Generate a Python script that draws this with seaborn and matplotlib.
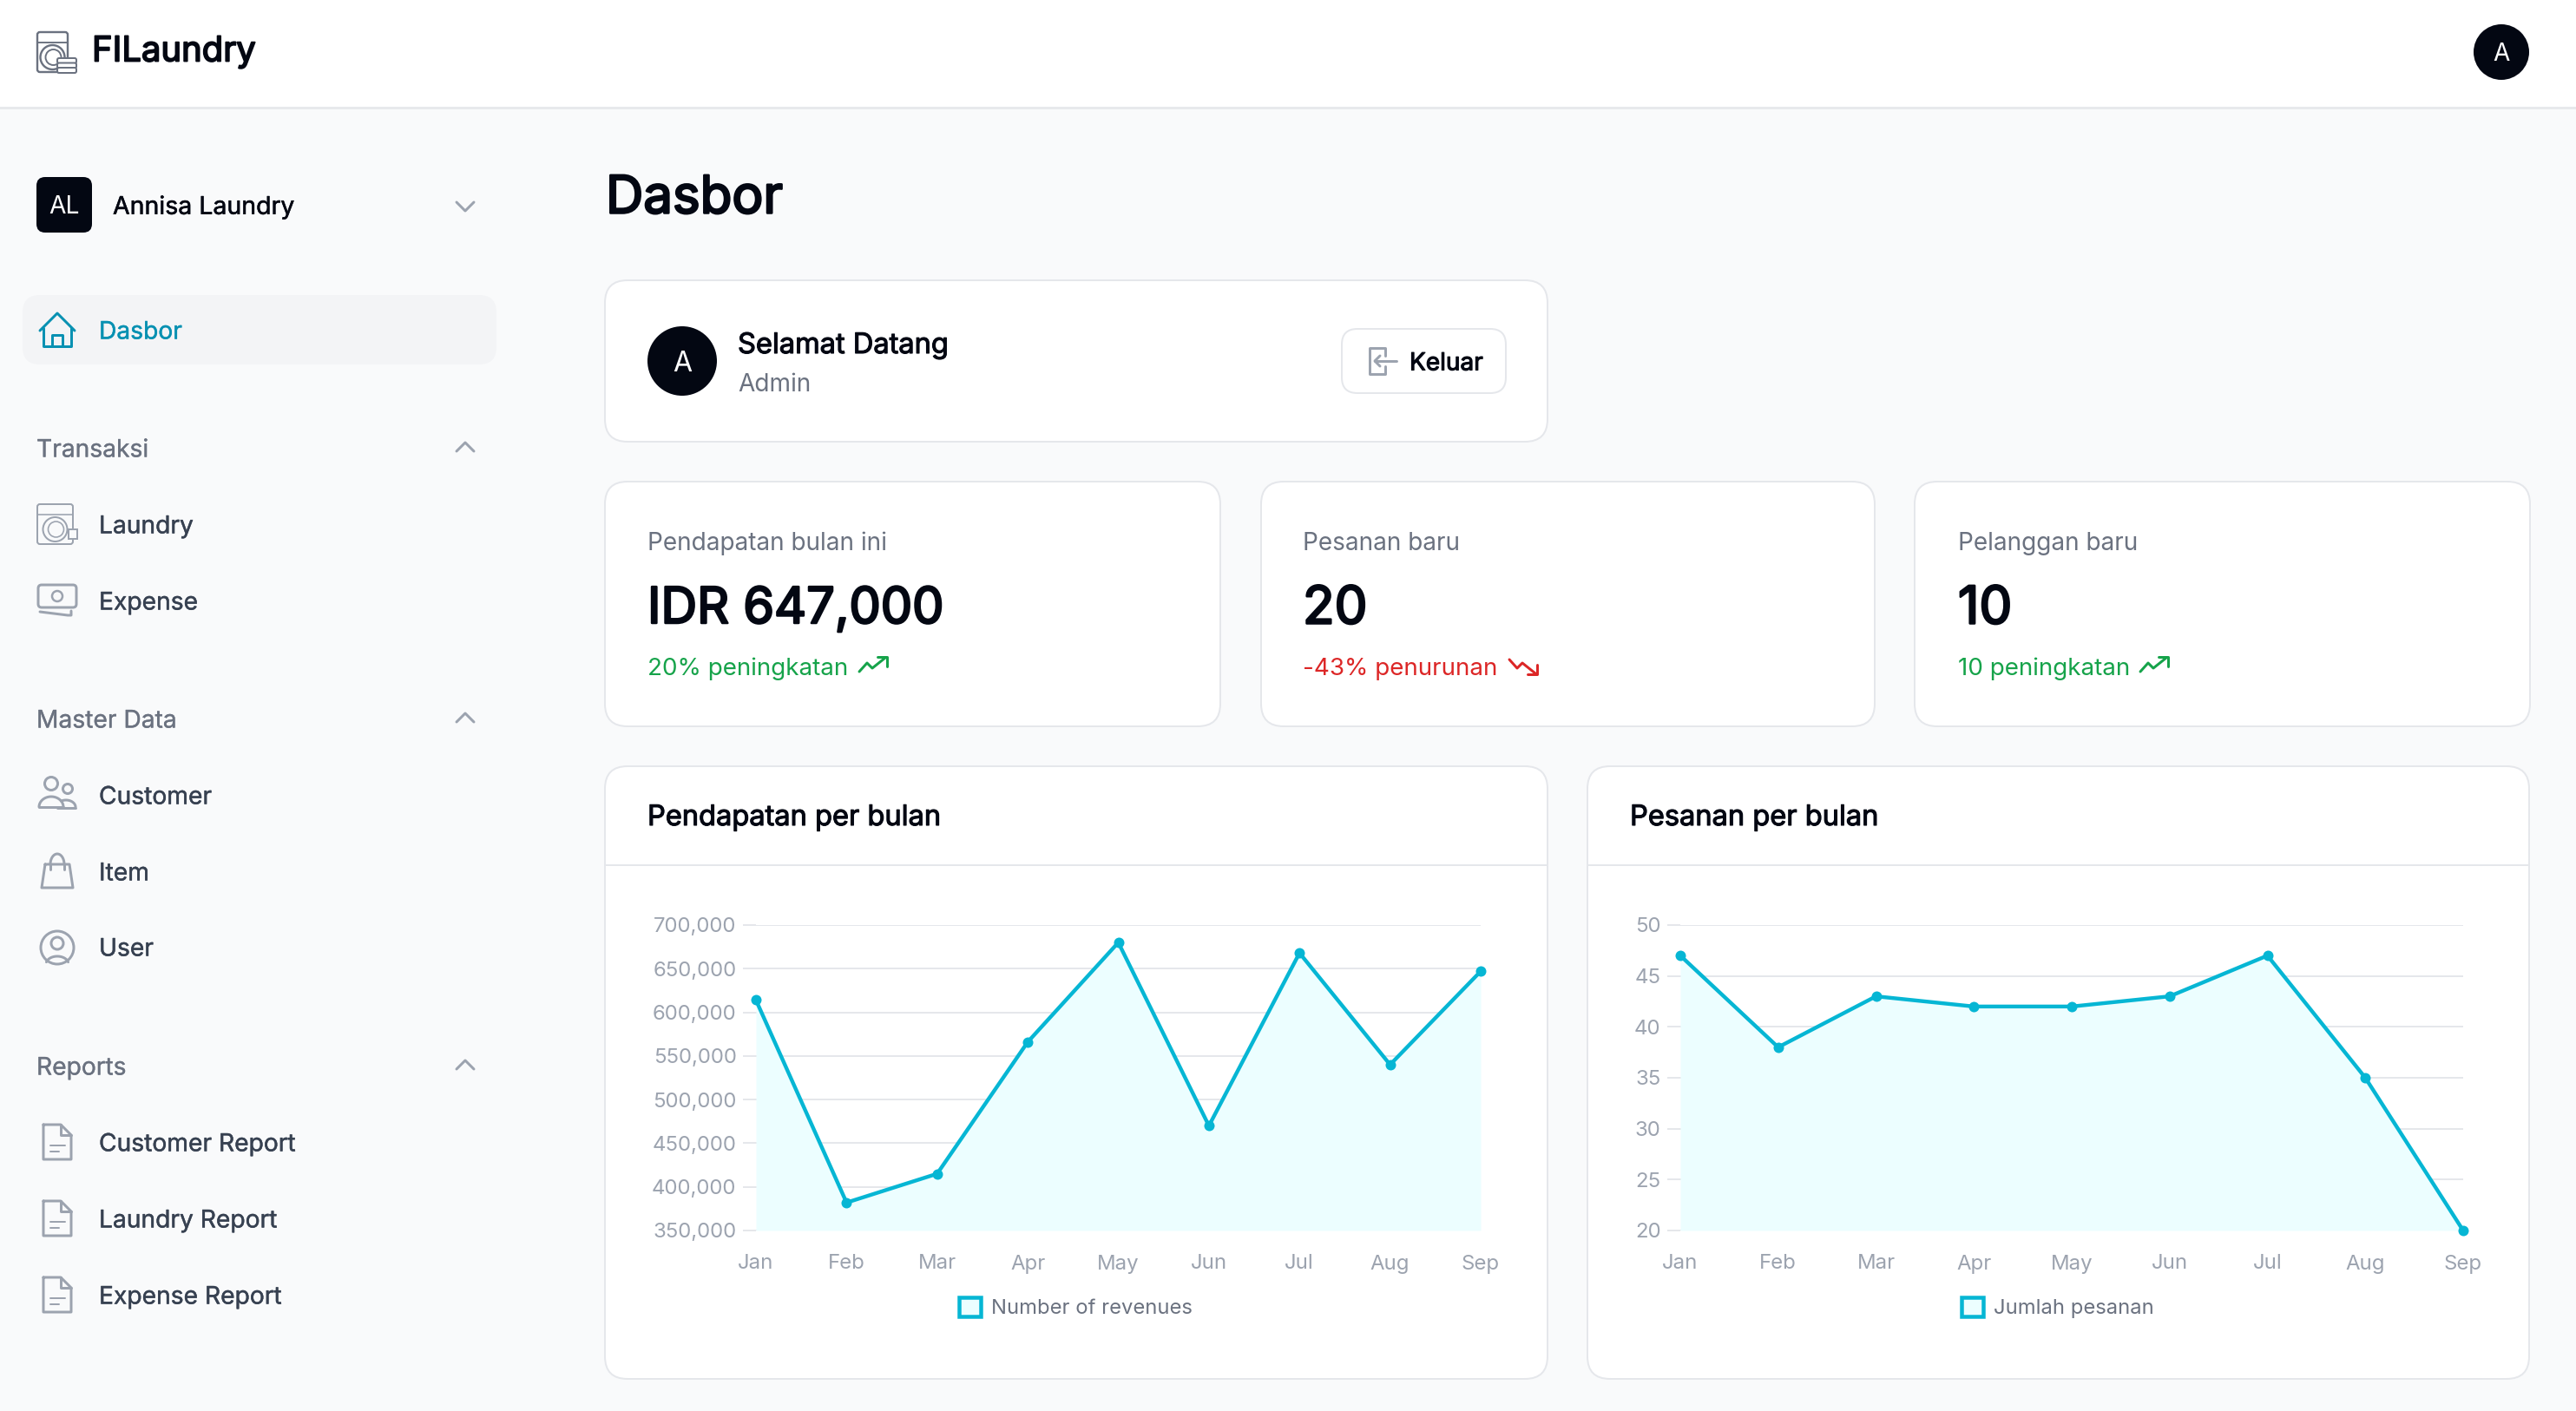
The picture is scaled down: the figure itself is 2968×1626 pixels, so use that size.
import numpy as np
import pandas as pd
import matplotlib
matplotlib.use("Agg")
import matplotlib.pyplot as plt
from matplotlib.patches import FancyBboxPatch, Circle, Rectangle, Patch
import matplotlib.patheffects as pe
import seaborn as sns

# ---------- data ----------
months = ["Jan", "Feb", "Mar", "Apr", "May", "Jun", "Jul", "Aug", "Sep"]
revenues = [614000, 382000, 415000, 566000, 680000, 470000, 668000, 540000, 647000]
orders = [47, 38, 43, 42, 42, 43, 47, 35, 20]
revenue_ticks = [350000, 400000, 450000, 500000, 550000, 600000, 650000, 700000]
order_ticks = [20, 25, 30, 35, 40, 45, 50]
revenue_label = "Number of revenues"
orders_label = "Jumlah pesanan"

W, H = 2968, 1626
sns.set_theme(style="white")
plt.rcParams["font.family"] = ["Inter", "DejaVu Sans"]

INK = "#030712"; GRAY = "#6b7280"; LIGHT = "#9ca3af"; SLATE = "#374151"
BORDER = "#e5e7eb"; CYAN = "#06b6d4"; PALE = "#ecfeff"; TEAL = "#0891b2"
GREEN = "#16a34a"; RED = "#dc2626"; ICON = "#9ca3af"

fig = plt.figure(figsize=(W / 100, H / 100), dpi=100, facecolor="#f9fafb")
bg = fig.add_axes([0, 0, 1, 1], zorder=0)
bg.set_xlim(0, W); bg.set_ylim(H, 0); bg.axis("off")


def px(v):
    return v * 0.72


def T(x, y, s, size, color=INK, bold=0.0, ha="left"):
    t = bg.text(x, y, s, fontsize=px(size), color=color, ha=ha, va="center_baseline")
    if bold:
        t.set_path_effects([pe.withStroke(linewidth=bold, foreground=color)])
    return t


def box(x0, y0, x1, y1, r=26, fc="white", ec=BORDER, lw=2.0):
    bg.add_patch(FancyBboxPatch((x0 + r, y0 + r), x1 - x0 - 2 * r, y1 - y0 - 2 * r,
                                boxstyle=f"round,pad={r},rounding_size={r}",
                                fc=fc, ec=ec, lw=px(lw)))


def L(xs, ys, c=ICON, lw=3):
    bg.plot(xs, ys, color=c, lw=px(lw), solid_capstyle="round", solid_joinstyle="round")


def C(x, y, r, c=ICON, lw=3, fc="none"):
    bg.add_patch(Circle((x, y), r, fc=fc, ec=c, lw=px(lw)))


def arc(x, y, rx, ry, a0=180, a1=360, c=ICON, lw=3):
    a = np.radians(np.linspace(a0, a1, 30))
    L(x + rx * np.cos(a), y + ry * np.sin(a), c, lw)


def chev(x, y, up=True):
    d = -1 if up else 1
    L([x - 10, x, x + 10], [y - d * 5, y + d * 5, y - d * 5], LIGHT, 3)


def doc(x, y):
    L([x - 16, x + 4, x + 16, x + 16, x - 16, x - 16], [y - 20, y - 20, y - 8, y + 20, y + 20, y - 20])
    L([x + 4, x + 4, x + 16], [y - 20, y - 8, y - 8])
    L([x - 8, x + 9], [y + 4, y + 4], lw=2)
    L([x - 8, x + 2], [y + 11, y + 11], lw=2)


def washer(x0, y0, x1, y1, c=ICON, lw=2.2):
    bg.add_patch(FancyBboxPatch((x0 + 3, y0 + 3), x1 - x0 - 6, y1 - y0 - 6,
                                boxstyle="round,pad=3,rounding_size=3", fc="none", ec=c, lw=px(lw)))
    L([x0, x1], [y0 + 12, y0 + 12], c, lw * 0.8)
    cx, cy = (x0 + x1) / 2, (y0 + 12 + y1) / 2
    C(cx, cy, 14, c, lw)
    C(cx + 1, cy, 9, c, lw * 0.8)


def trend(x, y, up=True, c=GREEN):
    xs = np.array([0, 9, 15, 30])
    ys = np.array([7, -3, 3, -9])
    sign = 1 if up else -1
    L(x + xs, y + sign * ys, c, 3)
    L([x + 21, x + 32, x + 32], [y - sign * 10, y - sign * 10, y + sign * 1], c, 3)


# ---------- top bar ----------
bg.add_patch(Rectangle((0, 123), W, 3, fc="#e7e9ec", ec="none"))
bg.add_patch(Rectangle((0, 0), W, 123, fc="white", ec="none"))
washer(43, 37, 78, 83, GRAY, 2.4)
for k in range(3):
    bg.add_patch(FancyBboxPatch((67, 68 + k * 5.5), 20, 4, boxstyle="round,pad=1,rounding_size=2",
                                fc="white", ec=GRAY, lw=px(2)))
T(106, 56, "FILaundry", 40, INK, bold=1.3)
bg.add_patch(Circle((2882, 60), 32, fc=INK, ec="none"))
T(2882, 60, "A", 28, "white", ha="center")

# ---------- sidebar ----------
S = 28.2
box(42, 204, 106, 268, r=10, fc=INK, ec="none", lw=0)
T(74, 236, "AL", S, "white", ha="center")
T(130, 236, "Annisa Laundry", 28.5, INK, bold=0.35)
chev(536, 238, up=False)

box(26, 340, 572, 420, r=20, fc="#f3f4f6", ec="none", lw=0)
L([46, 66, 86], [381, 361, 381], TEAL, 3)
L([50, 50, 82, 82], [378, 399, 399, 378], TEAL, 3)
L([60, 60, 72, 72], [399, 386, 386, 399], TEAL, 3)
T(114, 380, "Dasbor", S, TEAL, bold=0.3)

T(42, 516, "Transaksi", S, GRAY, bold=0.2)
chev(536, 515)
washer(43, 581, 84, 627, ICON, 2)
bg.add_patch(Rectangle((79, 610), 10, 11, fc="#f9fafb", ec=ICON, lw=px(2)))
T(114, 604, "Laundry", S, SLATE, bold=0.3)
bg.add_patch(FancyBboxPatch((48, 678), 36, 18, boxstyle="round,pad=4,rounding_size=4", fc="none", ec=ICON, lw=px(3)))
C(66, 687, 6, ICON, 2.5)
L([46, 78, 82, 82], [705, 709, 709, 704])
T(114, 692, "Expense", S, SLATE, bold=0.3)

T(42, 828, "Master Data", S, GRAY, bold=0.2)
chev(536, 827)
C(59, 903, 7.5); C(78, 909, 5.5)
arc(59, 930, 14, 12, 180, 360); L([45, 73], [930, 930])
arc(76, 930, 11, 8, 240, 360); L([66, 87], [931, 931])
T(114, 916, "Customer", S, SLATE, bold=0.3)
L([52, 80, 84, 48, 52], [996, 996, 1023, 1023, 996])
arc(66, 996, 8, 12, 180, 360)
L([58, 58], [996, 1002]); L([74, 74], [996, 1002])
T(114, 1004, "Item", S, SLATE, bold=0.3)
C(66, 1092, 19)
C(66, 1087, 7)
arc(66, 1111, 13, 9, 195, 345)
T(114, 1091, "User", S, SLATE, bold=0.3)

T(42, 1228, "Reports", S, GRAY, bold=0.2)
chev(536, 1227)
for yy, name in [(1316, "Customer Report"), (1404, "Laundry Report"), (1492, "Expense Report")]:
    doc(66, yy)
    T(114, yy, name, S, SLATE, bold=0.3)

# ---------- main ----------
T(698, 224, "Dasbor", 60, INK, bold=1.8)

box(697, 323, 1783, 509)
bg.add_patch(Circle((786, 416), 40, fc=INK, ec="none"))
T(786, 416, "A", 32, "white", ha="center")
T(850, 395, "Selamat Datang", 32.6, INK, bold=0.8)
T(850, 440, "Admin", 28, GRAY)
box(1546, 379, 1735, 453, r=18)
L([1596, 1596, 1578, 1578, 1596, 1596], [410, 401, 401, 431, 431, 422], LIGHT, 3)
L([1584, 1609], [416, 416], LIGHT, 3)
L([1590, 1584, 1590], [410, 416, 422], LIGHT, 3)
T(1624, 416, "Keluar", 28, INK, bold=0.8)

stats = [(697, 1406, 746, "Pendapatan bulan ini", "IDR 647,000", 57.6, "20% peningkatan", GREEN, True, 990),
         (1453, 2160, 1501, "Pesanan baru", "20", 60, "-43% penurunan", RED, False, 1739),
         (2206, 2915, 2256, "Pelanggan baru", "10", 60, "10 peningkatan", GREEN, True, 2466)]
for x0, x1, tx, lab, val, vs, sub, col, up, ax_ in stats:
    box(x0, 555, x1, 837)
    T(tx, 623, lab, 28, GRAY)
    T(tx, 697, val, vs, INK, bold=1.8)
    T(tx, 767.5, sub, 27.8, col)
    trend(ax_, 767, up, col)

for x0, x1, title in [(697, 1783, "Pendapatan per bulan"), (1829, 2914, "Pesanan per bulan")]:
    box(x0, 883, x1, 1589)
    bg.plot([x0, x1], [997, 997], color=BORDER, lw=px(2))
    T(x0 + 49, 939, title, 32.6, INK, bold=0.8)


# ---------- charts ----------
def chart(left, right, values, ticks, fmt, label, leg_x):
    top, bottom = 1066, 1418
    ax = fig.add_axes([left / W, 1 - bottom / H, (right - left) / W, (bottom - top) / H], zorder=2)
    ax.patch.set_alpha(0)
    df = pd.DataFrame({"x": np.arange(len(months)), "v": values})
    ax.fill_between(df["x"], df["v"], ticks[0], color=PALE, lw=0, zorder=1.5)
    sns.lineplot(data=df, x="x", y="v", ax=ax, color=CYAN, lw=px(4.4), marker="o", ms=px(12),
                 mec=CYAN, mew=0, clip_on=False, zorder=3)
    ax.set_xlim(0, len(months) - 1); ax.set_ylim(ticks[0], ticks[-1])
    ax.set_xticks(df["x"]); ax.set_xticklabels(months)
    ax.set_yticks(ticks); ax.set_yticklabels([fmt(t) for t in ticks])
    ax.set_xlabel(""); ax.set_ylabel("")
    ax.grid(axis="y", color=BORDER, lw=px(2), zorder=1)
    ax.set_axisbelow(True)
    for s in ax.spines.values():
        s.set_visible(False)
    ax.tick_params(axis="y", length=px(15.5), width=px(2), color=BORDER, labelcolor=LIGHT,
                   labelsize=px(24), pad=px(7), left=True)
    ax.tick_params(axis="x", length=0, labelcolor=LIGHT, labelsize=px(24), pad=px(27.5))
    h = Patch(fc=PALE, ec=CYAN, lw=px(4.5), label=label)
    ax.legend(handles=[h], loc="center left", bbox_to_anchor=(leg_x / W, 1 - 1507 / H),
              bbox_transform=fig.transFigure, frameon=False, fontsize=px(23.8),
              labelcolor=GRAY, handlelength=1.05, handleheight=1.05, handletextpad=0.52,
              borderpad=0, borderaxespad=0)
    return ax


chart(871, 1706, revenues, revenue_ticks, lambda v: f"{v:,}", revenue_label, 1105)
chart(1936, 2838, orders, order_ticks, lambda v: f"{v}", orders_label, 2260)

fig.savefig("out.png", dpi=100, facecolor=fig.get_facecolor())
